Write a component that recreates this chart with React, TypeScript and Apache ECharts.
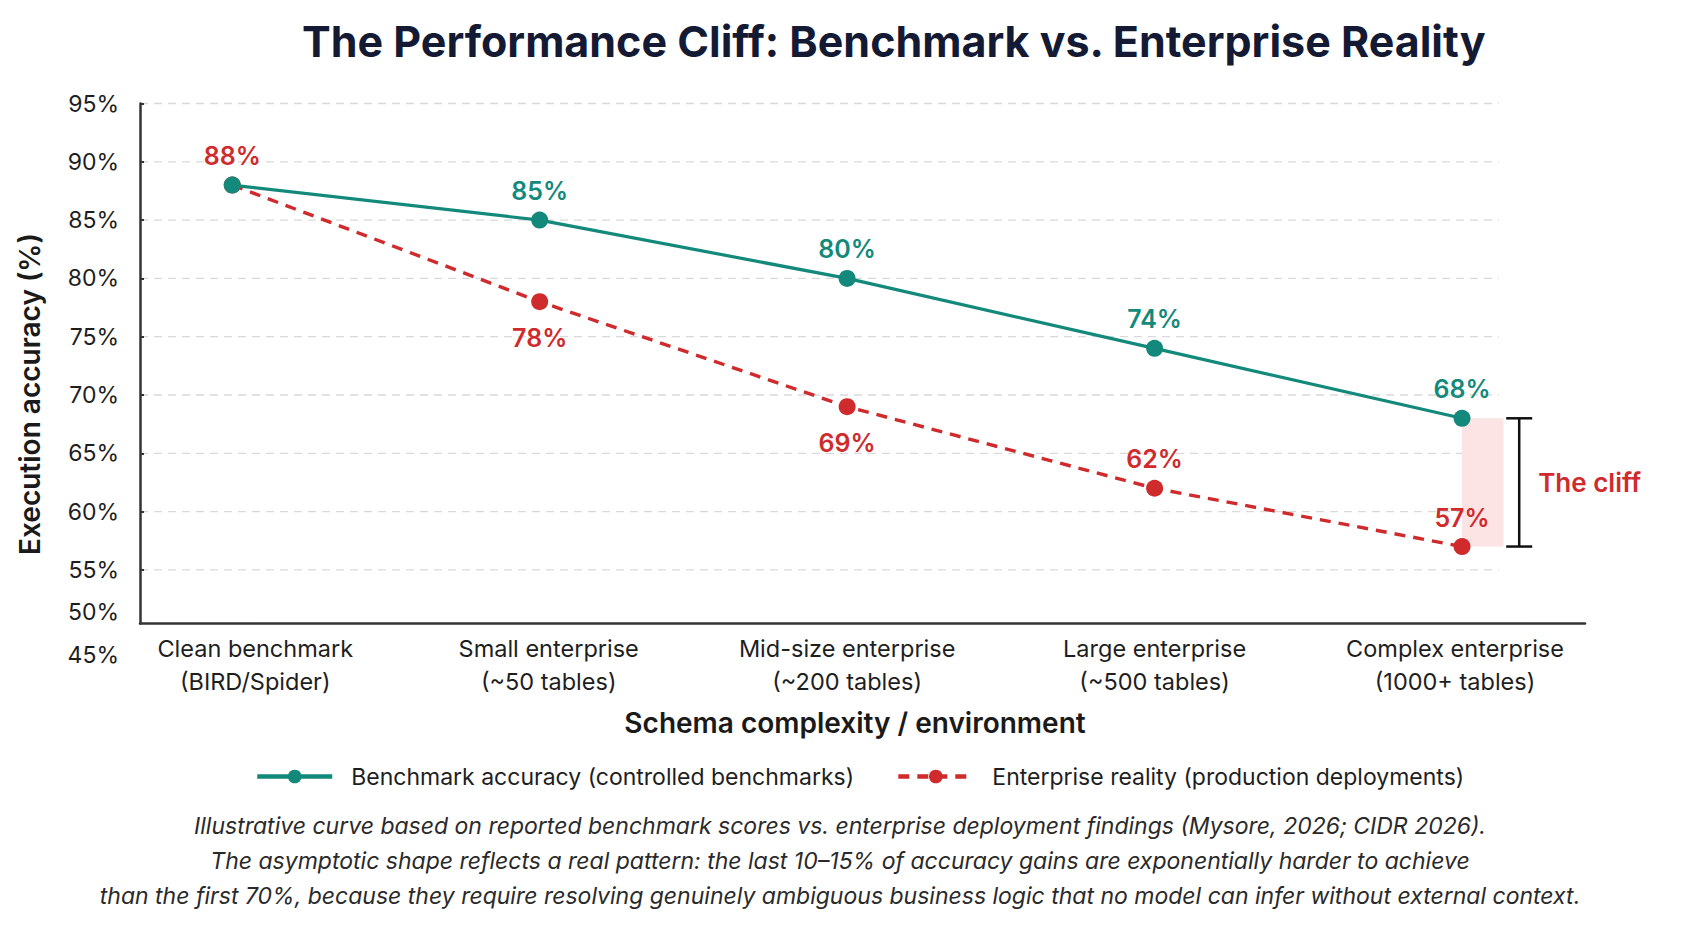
import React, { useEffect, useRef } from "react";
import * as echarts from "echarts";

// Environments along the x axis (one per point)
const categories = [
  "Clean benchmark\n(BIRD/Spider)",
  "Small enterprise\n(~50 tables)",
  "Mid-size enterprise\n(~200 tables)",
  "Large enterprise\n(~500 tables)",
  "Complex enterprise\n(1000+ tables)",
];

// Execution accuracy in percent
const benchmarkAccuracy = [88, 85, 80, 74, 68];
const enterpriseAccuracy = [88, 78, 69, 62, 57];

// Where each point's value label sits (null = no label)
const benchmarkLabelPos: (string | null)[] = [null, "top", "top", "top", "top"];
const enterpriseLabelPos: (string | null)[] = ["top", "bottom", "bottom", "top", "top"];

// Tick values on the accuracy axis and its dashed reference lines
const yTickValues = [55, 60, 65, 70, 75, 80, 85, 90, 95];
const gridValues = [55, 60, 65, 70, 75, 80, 85, 90, 95];

// Gap between the two curves at the last environment: [x index, top, bottom]
const cliffSpan = [[4, 68, 57]];

const footnoteLines = [
  "Illustrative curve based on reported benchmark scores vs. enterprise deployment findings (Mysore, 2026; CIDR 2026).",
  "The asymptotic shape reflects a real pattern: the last 10–15% of accuracy gains are exponentially harder to achieve",
  "than the first 70%, because they require resolving genuinely ambiguous business logic that no model can infer without external context.",
];

const TEAL = "#13897b";
const RED = "#cf2a2c";
const FONT = "Inter, 'Noto Sans', sans-serif";

// Horizontal nudge (px) of each category label, so the first one clears the y labels
const categoryLabelShift = [23, 9, 0, 0, -7];

const categoryRich: Record<string, any> = {};
categoryLabelShift.forEach((s, i) => {
  categoryRich["c" + i] = {
    fontSize: 23.5,
    lineHeight: 33,
    color: "#1e1e1e",
    fontFamily: FONT,
    padding: s >= 0 ? [0, 0, 0, s * 2] : [0, -s * 2, 0, 0],
  };
});

function lineData(values: number[], positions: (string | null)[], color: string) {
  return values.map((v, i) => {
    const pos = positions[i];
    return {
      value: [i, v],
      label: pos
        ? {
            show: true,
            position: pos,
            distance: pos === "top" ? 8 : 15,
            color,
            fontSize: 25,
            fontWeight: 600,
            fontFamily: FONT,
            formatter: (p: any) => p.value[1] + "%",
          }
        : { show: false },
    };
  });
}

export default function App() {
  const ref = useRef<HTMLDivElement>(null);

  useEffect(() => {
    if (!ref.current) return;
    const chart = echarts.init(ref.current, null, { renderer: "svg" });

    const option: any = {
      animation: false,
      backgroundColor: "#ffffff",
      textStyle: { fontFamily: FONT },
      title: {
        text: "The Performance Cliff: Benchmark vs. Enterprise Reality",
        left: 297,
        top: 14,
        textStyle: {
          fontSize: 43,
          fontWeight: 700,
          color: "#141a33",
          fontFamily: FONT,
        },
      },
      grid: {
        left: 140,
        right: 107,
        top: 103.5,
        bottom: 306.5,
        outerBoundsMode: "none",
      },
      legend: {
        left: 250,
        top: 760,
        itemWidth: 75,
        itemHeight: 17,
        itemGap: 42,
        textStyle: {
          fontSize: 23,
          color: "#1e1e1e",
          fontFamily: FONT,
          padding: [0, 0, 0, 14],
        },
        data: [
          {
            name: "Benchmark accuracy (controlled benchmarks)",
            lineStyle: { width: 4.5 },
          },
          {
            name: "Enterprise reality (production deployments)",
            lineStyle: { width: 4.5 },
          },
        ],
      },
      xAxis: {
        type: "value",
        min: -0.3,
        max: 4.4,
        splitLine: { show: false },
        axisTick: { show: false },
        axisLine: { show: true, onZero: false, lineStyle: { color: "#333333", width: 2.5 } },
        axisLabel: {
          customValues: [0, 1, 2, 3, 4],
          formatter: (v: number) => {
            const i = Math.round(v);
            const text = categories[i];
            if (text === undefined) return "";
            return text
              .split("\n")
              .map((line) => `{c${i}|${line}}`)
              .join("\n");
          },
          rich: categoryRich,
          fontSize: 23.5,
          lineHeight: 33,
          color: "#1e1e1e",
          margin: 8,
          fontFamily: FONT,
        },
      },
      yAxis: {
        type: "value",
        min: 50.4,
        max: 95,
        splitLine: { show: false },
        axisLine: { show: true, onZero: false, lineStyle: { color: "#333333", width: 2.5 } },
        axisTick: {
          show: true,
          inside: true,
          length: 4,
          customValues: yTickValues,
          lineStyle: { color: "#333333", width: 2 },
        },
        axisLabel: {
          customValues: yTickValues,
          formatter: (v: number) => v + "%",
          fontSize: 23,
          color: "#1e1e1e",
          margin: 21,
          fontFamily: FONT,
        },
      },
      series: [
        {
          type: "custom",
          name: "grid",
          silent: true,
          z: 0,
          data: gridValues.map((v) => [0, v]),
          encode: { x: 0, y: 1 },
          renderItem: (_params: any, api: any) => {
            const y = api.value(1);
            const a = api.coord([-0.3, y]);
            const b = api.coord([4.12, y]);
            return {
              type: "line",
              shape: { x1: a[0], y1: a[1], x2: b[0], y2: b[1] },
              style: { stroke: "#d9d9d9", lineWidth: 1.3, lineDash: [8, 6] },
            };
          },
        },
        {
          type: "custom",
          name: "cliff",
          silent: true,
          z: 1,
          data: cliffSpan,
          encode: { x: 0, y: [1, 2] },
          renderItem: (_params: any, api: any) => {
            const xi = api.value(0);
            const top = api.coord([xi, api.value(1)]);
            const bot = api.coord([xi, api.value(2)]);
            const shadeEnd = api.coord([xi + 0.135, api.value(1)])[0];
            const bx = api.coord([xi + 0.186, api.value(1)])[0];
            const midY = (top[1] + bot[1]) / 2;
            return {
              type: "group",
              children: [
                {
                  type: "rect",
                  shape: { x: top[0], y: top[1], width: shadeEnd - top[0], height: bot[1] - top[1] },
                  style: { fill: "#fce3e4" },
                },
                {
                  type: "line",
                  shape: { x1: bx, y1: top[1], x2: bx, y2: bot[1] },
                  style: { stroke: "#111111", lineWidth: 2.5 },
                },
                {
                  type: "line",
                  shape: { x1: bx - 13, y1: top[1], x2: bx + 13, y2: top[1] },
                  style: { stroke: "#111111", lineWidth: 2.5 },
                },
                {
                  type: "line",
                  shape: { x1: bx - 13, y1: bot[1], x2: bx + 13, y2: bot[1] },
                  style: { stroke: "#111111", lineWidth: 2.5 },
                },
                {
                  type: "text",
                  x: bx + 19,
                  y: midY,
                  style: {
                    text: "The cliff",
                    fill: RED,
                    fontSize: 26,
                    fontWeight: 600,
                    fontFamily: FONT,
                    verticalAlign: "middle",
                    align: "left",
                  },
                },
              ],
            };
          },
        },
        {
          type: "line",
          name: "Benchmark accuracy (controlled benchmarks)",
          z: 4,
          data: lineData(benchmarkAccuracy, benchmarkLabelPos, TEAL),
          symbol: "circle",
          symbolSize: 17,
          color: TEAL,
          lineStyle: { color: TEAL, width: 3.2 },
          itemStyle: { color: TEAL },
        },
        {
          type: "line",
          name: "Enterprise reality (production deployments)",
          z: 3,
          data: lineData(enterpriseAccuracy, enterpriseLabelPos, RED),
          symbol: "circle",
          symbolSize: 17,
          color: RED,
          lineStyle: { color: RED, width: 3.4, type: [11, 8] },
          itemStyle: { color: RED },
        },
      ],
      graphic: [
        {
          type: "text",
          x: 119,
          y: 612,
          style: { text: "50%", fill: "#1e1e1e", fontSize: 23, fontFamily: FONT, align: "right", verticalAlign: "middle" },
        },
        {
          type: "text",
          x: 119,
          y: 655,
          style: { text: "45%", fill: "#1e1e1e", fontSize: 23, fontFamily: FONT, align: "right", verticalAlign: "middle" },
        },
        {
          type: "text",
          x: 30,
          y: 394,
          rotation: Math.PI / 2,
          style: {
            text: "Execution accuracy (%)",
            fill: "#1a1a1a",
            fontSize: 28,
            fontWeight: 600,
            fontFamily: FONT,
            align: "center",
            verticalAlign: "middle",
          },
        },
        {
          type: "text",
          x: 855,
          y: 723,
          style: {
            text: "Schema complexity / environment",
            fill: "#1a1a1a",
            fontSize: 28,
            fontWeight: 600,
            fontFamily: FONT,
            align: "center",
            verticalAlign: "middle",
          },
        },
        ...footnoteLines.map((t, i) => ({
          type: "text",
          x: 840,
          y: 826 + i * 35,
          style: {
            text: t,
            fill: "#2a2a2a",
            fontSize: 23,
            fontStyle: "italic",
            fontFamily: FONT,
            align: "center",
            verticalAlign: "middle",
          },
        })),
      ],
    };

    chart.setOption(option);
    return () => chart.dispose();
  }, []);

  return (
    <div
      ref={ref}
      style={{ position: "fixed", left: 0, top: 0, width: 1692, height: 930, background: "#ffffff" }}
    />
  );
}
